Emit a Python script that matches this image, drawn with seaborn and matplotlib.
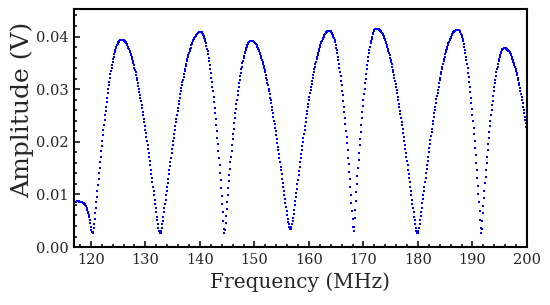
import numpy as np
import pandas as pd
import seaborn as sns
import matplotlib.pyplot as plt
from matplotlib.ticker import MultipleLocator, FormatStrFormatter

# sweep: 117.0 MHz to 200.0 MHz, one reading every 0.1 MHz
freq_start = 117.0
freq_stop = 200.0

# amplitude in mV, one row per MHz (x.0 ... x.9)
amplitude_mv = [
    8.5, 8.6, 8.6, 8.6, 8.7, 8.7, 8.7, 8.7, 8.7, 8.6,            # 117
    8.6, 8.6, 8.6, 8.5, 8.5, 8.4, 8.4, 8.3, 8.2, 8.1,            # 118
    8.0, 7.8, 7.5, 7.1, 6.7, 6.4, 6.1, 5.7, 5.1, 4.5,            # 119
    3.9, 3.3, 2.9, 2.7, 2.9, 3.6, 4.4, 5.4, 6.4, 7.5,            # 120
    8.6, 9.6, 10.7, 11.8, 12.9, 14.0, 15.1, 16.1, 17.2, 18.2,    # 121
    19.2, 20.2, 21.2, 22.2, 23.1, 24.1, 25.0, 25.9, 26.7, 27.6,  # 122
    28.4, 29.2, 30.0, 30.7, 31.4, 32.1, 32.8, 33.4, 34.0, 34.6,  # 123
    35.1, 35.7, 36.1, 36.6, 37.0, 37.4, 37.8, 38.1, 38.4, 38.6,  # 124
    38.9, 39.0, 39.2, 39.3, 39.4, 39.4, 39.4, 39.4, 39.4, 39.4,  # 125
    39.3, 39.2, 39.1, 39.0, 38.9, 38.7, 38.5, 38.3, 38.1, 37.9,  # 126
    37.6, 37.3, 37.0, 36.7, 36.4, 36.1, 35.7, 35.3, 34.9, 34.5,  # 127
    34.1, 33.6, 33.2, 32.7, 32.2, 31.7, 31.1, 30.6, 30.0, 29.5,  # 128
    28.9, 28.3, 27.7, 27.0, 26.4, 25.7, 25.1, 24.4, 23.7, 23.0,  # 129
    22.3, 21.6, 20.9, 20.1, 19.4, 18.6, 17.8, 17.1, 16.3, 15.5,  # 130
    14.7, 13.9, 13.1, 12.3, 11.5, 10.7, 9.8, 9.0, 8.2, 7.4,      # 131
    6.6, 5.8, 5.1, 4.3, 3.7, 3.1, 2.7, 2.6, 2.7, 3.1,            # 132
    3.7, 4.3, 5.0, 5.8, 6.6, 7.4, 8.2, 9.0, 9.8, 10.6,           # 133
    11.4, 12.2, 13.0, 13.8, 14.6, 15.4, 16.2, 17.0, 17.8, 18.6,  # 134
    19.3, 20.1, 20.8, 21.5, 22.3, 23.0, 23.7, 24.4, 25.1, 25.8,  # 135
    26.4, 27.1, 27.7, 28.4, 29.0, 29.6, 30.2, 30.7, 31.3, 31.8,  # 136
    32.4, 32.9, 33.4, 33.9, 34.4, 34.8, 35.3, 35.7, 36.1, 36.5,  # 137
    36.9, 37.3, 37.6, 37.9, 38.3, 38.6, 38.8, 39.1, 39.3, 39.6,  # 138
    39.8, 40.0, 40.1, 40.3, 40.4, 40.5, 40.6, 40.7, 40.8, 40.8,  # 139
    40.8, 40.8, 40.8, 40.8, 40.7, 40.5, 40.3, 40.1, 39.8, 39.5,  # 140
    39.1, 38.7, 38.2, 37.7, 37.2, 36.6, 36.0, 35.3, 34.6, 33.9,  # 141
    33.1, 32.2, 31.4, 30.5, 29.6, 28.6, 27.6, 26.5, 25.4, 24.3,  # 142
    23.2, 22.0, 20.8, 19.5, 18.2, 16.9, 15.5, 14.1, 12.7, 11.2,  # 143
    9.7, 8.2, 6.6, 5.0, 3.5, 2.6, 3.3, 4.6, 5.9, 7.3,            # 144
    8.6, 9.9, 11.2, 12.5, 13.7, 14.9, 16.1, 17.2, 18.3, 19.4,    # 145
    20.5, 21.5, 22.5, 23.5, 24.5, 25.4, 26.3, 27.2, 28.0, 28.8,  # 146
    29.6, 30.4, 31.1, 31.8, 32.5, 33.1, 33.8, 34.3, 34.9, 35.4,  # 147
    35.9, 36.3, 36.8, 37.1, 37.5, 37.8, 38.1, 38.4, 38.6, 38.8,  # 148
    38.9, 39.0, 39.1, 39.1, 39.1, 39.1, 39.1, 39.1, 39.1, 39.0,  # 149
    38.9, 38.8, 38.7, 38.5, 38.3, 38.1, 37.9, 37.7, 37.4, 37.2,  # 150
    36.9, 36.6, 36.3, 35.9, 35.6, 35.2, 34.8, 34.4, 34.0, 33.6,  # 151
    33.2, 32.7, 32.2, 31.7, 31.2, 30.7, 30.1, 29.6, 29.0, 28.4,  # 152
    27.9, 27.3, 26.6, 26.0, 25.4, 24.7, 24.0, 23.4, 22.7, 22.0,  # 153
    21.3, 20.6, 19.8, 19.1, 18.4, 17.6, 16.9, 16.1, 15.3, 14.6,  # 154
    13.8, 13.0, 12.2, 11.5, 10.7, 9.9, 9.1, 8.4, 7.6, 6.9,       # 155
    6.1, 5.4, 4.8, 4.3, 3.8, 3.5, 3.4, 3.5, 3.8, 4.3,            # 156
    4.9, 5.6, 6.3, 7.1, 7.9, 8.7, 9.5, 10.3, 11.1, 12.0,         # 157
    12.8, 13.6, 14.4, 15.2, 16.1, 16.9, 17.7, 18.4, 19.2, 20.0,  # 158
    20.8, 21.5, 22.3, 23.0, 23.8, 24.5, 25.2, 25.9, 26.6, 27.2,  # 159
    27.9, 28.6, 29.2, 29.8, 30.4, 31.0, 31.6, 32.2, 32.7, 33.2,  # 160
    33.8, 34.3, 34.7, 35.2, 35.7, 36.1, 36.5, 36.9, 37.3, 37.7,  # 161
    38.0, 38.4, 38.7, 39.0, 39.2, 39.5, 39.7, 40.0, 40.2, 40.4,  # 162
    40.5, 40.6, 40.8, 40.9, 41.0, 41.0, 41.0, 41.0, 41.0, 41.0,  # 163
    41.0, 40.9, 40.7, 40.5, 40.3, 40.0, 39.7, 39.3, 38.9, 38.4,  # 164
    37.9, 37.4, 36.8, 36.2, 35.5, 34.8, 34.1, 33.3, 32.5, 31.6,  # 165
    30.7, 29.7, 28.8, 27.8, 26.7, 25.6, 24.5, 23.3, 22.1, 20.9,  # 166
    19.7, 18.4, 17.0, 15.7, 14.3, 12.9, 11.4, 9.9, 8.4, 6.8,     # 167
    5.3, 3.8, 3.0, 3.9, 5.5, 7.1, 8.8, 10.4, 12.0, 13.5,         # 168
    15.0, 16.5, 17.9, 19.3, 20.6, 21.9, 23.2, 24.5, 25.7, 26.8,  # 169
    27.9, 29.0, 30.1, 31.1, 32.0, 32.9, 33.8, 34.6, 35.4, 36.2,  # 170
    36.9, 37.5, 38.1, 38.7, 39.2, 39.6, 40.0, 40.4, 40.7, 41.0,  # 171
    41.2, 41.4, 41.5, 41.5, 41.5, 41.5, 41.5, 41.5, 41.4, 41.3,  # 172
    41.2, 41.1, 41.0, 40.8, 40.7, 40.5, 40.3, 40.1, 39.8, 39.6,  # 173
    39.3, 39.0, 38.7, 38.3, 38.0, 37.6, 37.3, 36.9, 36.5, 36.0,  # 174
    35.6, 35.1, 34.7, 34.2, 33.7, 33.2, 32.6, 32.1, 31.5, 30.9,  # 175
    30.4, 29.8, 29.2, 28.5, 27.9, 27.2, 26.6, 25.9, 25.2, 24.5,  # 176
    23.8, 23.1, 22.4, 21.7, 20.9, 20.2, 19.4, 18.6, 17.9, 17.1,  # 177
    16.3, 15.5, 14.7, 13.9, 13.1, 12.3, 11.5, 10.6, 9.8, 9.0,    # 178
    8.2, 7.4, 6.6, 5.8, 5.1, 4.3, 3.7, 3.1, 2.7, 2.6,            # 179
    2.7, 3.1, 3.7, 4.4, 5.1, 5.9, 6.6, 7.4, 8.3, 9.1,            # 180
    9.9, 10.7, 11.5, 12.4, 13.2, 14.0, 14.8, 15.6, 16.4, 17.2,   # 181
    18.0, 18.8, 19.5, 20.3, 21.1, 21.8, 22.5, 23.3, 24.0, 24.7,  # 182
    25.4, 26.1, 26.7, 27.4, 28.1, 28.7, 29.3, 29.9, 30.5, 31.1,  # 183
    31.7, 32.2, 32.8, 33.3, 33.8, 34.3, 34.8, 35.3, 35.7, 36.1,  # 184
    36.6, 37.0, 37.4, 37.7, 38.1, 38.4, 38.7, 39.0, 39.3, 39.6,  # 185
    39.8, 40.0, 40.3, 40.5, 40.6, 40.8, 40.9, 41.0, 41.1, 41.2,  # 186
    41.3, 41.3, 41.3, 41.3, 41.3, 41.3, 41.2, 41.0, 40.8, 40.5,  # 187
    40.2, 39.9, 39.5, 39.1, 38.6, 38.1, 37.5, 36.9, 36.2, 35.5,  # 188
    34.7, 34.0, 33.1, 32.3, 31.4, 30.4, 29.4, 28.4, 27.3, 26.2,  # 189
    25.1, 23.9, 22.7, 21.4, 20.1, 18.8, 17.4, 16.0, 14.6, 13.1,  # 190
    11.6, 10.1, 8.5, 6.8, 5.2, 3.7, 2.7, 3.5, 4.9, 6.4,          # 191
    7.8, 9.3, 10.7, 12.1, 13.4, 14.7, 16.0, 17.2, 18.4, 19.6,    # 192
    20.8, 21.9, 23.0, 24.0, 25.0, 26.0, 26.9, 27.8, 28.7, 29.6,  # 193
    30.4, 31.1, 31.8, 32.5, 33.2, 33.8, 34.3, 34.8, 35.3, 35.8,  # 194
    36.2, 36.5, 36.8, 37.1, 37.4, 37.6, 37.7, 37.8, 37.8, 37.8,  # 195
    37.8, 37.8, 37.7, 37.6, 37.5, 37.4, 37.3, 37.2, 37.0, 36.8,  # 196
    36.6, 36.4, 36.1, 35.8, 35.6, 35.2, 34.9, 34.6, 34.2, 33.8,  # 197
    33.4, 33.0, 32.6, 32.1, 31.7, 31.2, 30.7, 30.2, 29.6, 29.1,  # 198
    28.5, 27.9, 27.3, 26.7, 26.1, 25.5, 24.8, 24.2, 23.5, 22.8,  # 199
    22.1,                                                        # 200
]

x_ticks = [120, 130, 140, 150, 160, 170, 180, 190, 200]
y_ticks = [0.00, 0.01, 0.02, 0.03, 0.04]

freq_mhz = np.linspace(freq_start, freq_stop, len(amplitude_mv))
df = pd.DataFrame({'freq': freq_mhz, 'amp': np.array(amplitude_mv) / 1000.0})

sns.set_style('ticks')
plt.rcParams['font.family'] = ['DejaVu Serif']

fig = plt.figure(figsize=(5.5, 3.05), dpi=100)
ax = fig.add_axes([0.1345, 0.19, 0.8236, 0.78])

sns.scatterplot(data=df, x='freq', y='amp', color='#0000ff', marker='s',
                s=4, linewidth=0, ax=ax, legend=False)

ax.set_xlim(116.9, 200)
ax.set_ylim(0, 0.0452)
ax.set_xticks(x_ticks)
ax.set_yticks(y_ticks)
ax.xaxis.set_minor_locator(MultipleLocator(2))
ax.yaxis.set_minor_locator(MultipleLocator(0.002))
ax.yaxis.set_major_formatter(FormatStrFormatter('%.2f'))

ax.tick_params(which='both', direction='in', top=False, right=False,
               width=1.3, labelsize=10.5, pad=4)
ax.tick_params(which='major', length=4)
ax.tick_params(which='minor', length=2.5)
for side in ax.spines.values():
    side.set_linewidth(1.5)
    side.set_color('black')

ax.set_xlabel('Frequency (MHz)', fontsize=14.5, labelpad=4)
ax.set_ylabel('Amplitude (V)', fontsize=18)
ax.yaxis.set_label_coords(-0.088, 0.575)

fig.savefig('out.png', dpi=100)
